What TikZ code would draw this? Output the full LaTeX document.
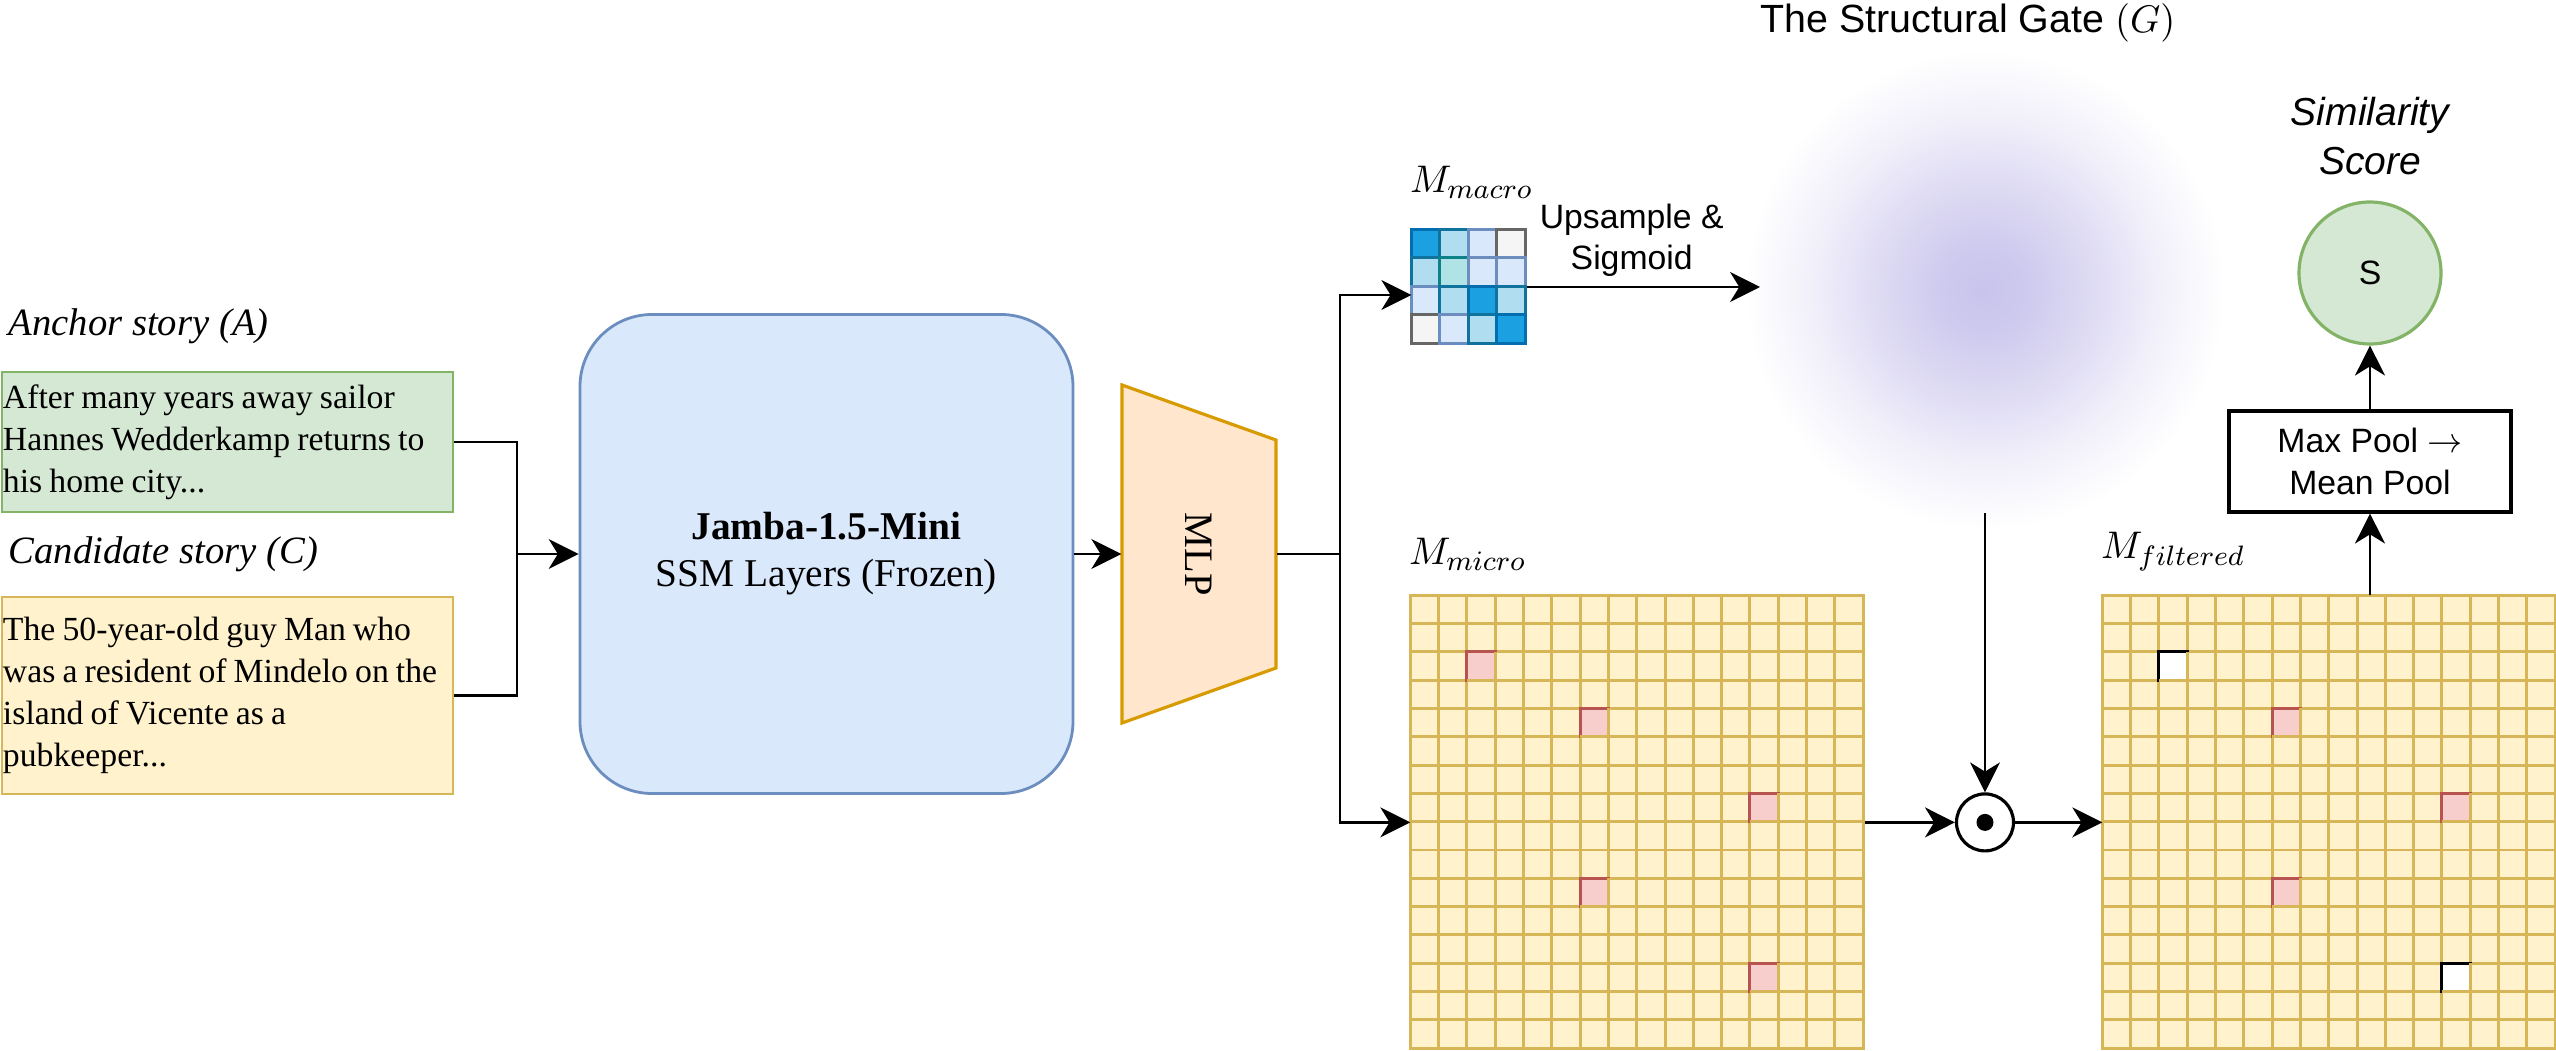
\documentclass[tikz,border=0pt]{standalone}
\usepackage{fontspec}
\setmainfont{Liberation Serif}
\newfontfamily\sansfont{Liberation Sans}
\usetikzlibrary{arrows.meta,positioning,calc}

\definecolor{anchorfill}{HTML}{D5E8D4}
\definecolor{anchorline}{HTML}{82B366}
\definecolor{candfill}{HTML}{FFF2CC}
\definecolor{candline}{HTML}{D6B656}
\definecolor{jambafill}{HTML}{DAE8FC}
\definecolor{jambaline}{HTML}{6C8EBF}
\definecolor{mlpfill}{HTML}{FFE6CC}
\definecolor{mlpline}{HTML}{D79B00}
\definecolor{hotfill}{HTML}{F8CECC}
\definecolor{hotline}{HTML}{B85450}
\definecolor{deepfill}{HTML}{1BA1E2}
\definecolor{deepline}{HTML}{006EAF}
\definecolor{skyfill}{HTML}{B1DDF0}
\definecolor{skyline}{HTML}{10739E}
\definecolor{tealfill}{HTML}{B0E3E6}
\definecolor{tealline}{HTML}{0E8088}
\definecolor{greyfill}{HTML}{F5F5F5}
\definecolor{greyline}{HTML}{666666}
\definecolor{gatecol}{HTML}{C9C4EC}

\pgfdeclareradialshading{gateglow}{\pgfpoint{0cm}{0cm}}{color(0bp)=(gatecol); color(4bp)=(gatecol!92!white); color(11bp)=(gatecol!62!white); color(18bp)=(gatecol!26!white); color(25bp)=(white); color(50bp)=(white)}

\newcommand{\tightspaces}{\spaceskip=0.21em plus 0.1em minus 0.05em\relax}

\tikzset{
  storybox/.style={draw, rectangle, line width=0.8pt, minimum width=4.51cm, text width=4.49cm, inner xsep=0.01cm, align=left, font=\fontsize{9.6}{11.9}\selectfont},
  storylabel/.style={anchor=west, inner sep=0pt, font=\fontsize{11}{13}\selectfont\itshape},
  matlabel/.style={inner sep=0pt, font=\fontsize{11.2}{13}\selectfont},
  gridbox/.style={rectangle, inner sep=0pt, minimum size=4.528cm},
  cell/.style={fill=candfill, draw=candline, line width=0.85pt},
  cellline/.style={draw=candline, line width=0.85pt},
  hotcell/.style={fill=hotfill, draw=hotline, line width=0.85pt},
  blankcell/.style={fill=white, draw=black, line width=0.85pt},
  wire/.style={line width=0.8pt}
}

\begin{document}
\begin{tikzpicture}[>={Stealth[length=8.5pt, width=8.5pt, inset=2.6pt]}]
  \useasboundingbox (0,0) rectangle (25.56,10.5);

  \coordinate (gate) at (19.85,7.6);
  \shade[shading=gateglow] (gate) circle (2.4);
  \node[font=\sansfont\fontsize{11.2}{13}\selectfont] (gatelbl) at (19.68,10.27) {The Structural Gate $(G)$};

  \node[storylabel] (anchorlbl) at (0.08,7.24) {Anchor story (A)};
  \node[storybox, fill=anchorfill, draw=anchorline, minimum height=1.40cm] (anchor) at (2.275,6.08) {\tightspaces After many years away sailor\\Hannes Wedderkamp returns to\\his home city...};
  \node[storylabel] (candlbl) at (0.08,4.96) {Candidate story (C)};
  \node[storybox, fill=candfill, draw=candline, minimum height=1.97cm] (cand) at (2.275,3.545) {\tightspaces The 50-year-old guy Man who\\\mbox{was a resident of Mindelo on the}\\island of Vicente as a\\pubkeeper...};

  \node[draw=jambaline, fill=jambafill, line width=0.8pt, rounded corners=0.72cm, minimum width=4.93cm, minimum height=4.79cm, align=center, font=\fontsize{11.2}{13.4}\selectfont] (jamba) at (8.265,4.96) {\textbf{Jamba-1.5-Mini}\\SSM Layers (Frozen)};

  \filldraw[fill=mlpfill, draw=mlpline, line width=0.9pt] (11.22,6.65) -- (12.76,6.10) -- (12.76,3.82) -- (11.22,3.27) -- cycle;
  \node[inner sep=0pt, minimum width=1.54cm, minimum height=3.37cm, font=\fontsize{11.5}{13}\selectfont] (mlp) at (11.99,4.96) {\rotatebox{-90}{MLP}};

  \coordinate (merge) at (5.17,4.96);
  \draw[wire] (anchor.east) -| (merge);
  \draw[wire] (cand.east) -| (merge);
  \draw[wire, ->] (merge) -- (jamba.west);
  \draw[wire, ->] (jamba) -- (mlp);

  \node[rectangle, inner sep=0pt, minimum size=1.14cm] (macro) at (14.69,7.63) {};
  \begin{scope}[shift={(macro.north west)}, x=0.285cm, y=-0.285cm, line width=0.85pt]
    \foreach \c/\r/\f/\d in {0/0/deepfill/deepline, 1/0/skyfill/skyline, 2/0/jambafill/jambaline, 3/0/greyfill/greyline,
      0/1/skyfill/skyline, 1/1/tealfill/tealline, 2/1/jambafill/jambaline, 3/1/jambafill/jambaline,
      0/2/jambafill/jambaline, 1/2/skyfill/skyline, 2/2/deepfill/deepline, 3/2/skyfill/skyline,
      0/3/greyfill/greyline, 1/3/jambafill/jambaline, 2/3/skyfill/skyline, 3/3/deepfill/deepline}
      \draw[fill=\f, draw=\d] (\c,\r) rectangle ++(1,1);
  \end{scope}
  \node[matlabel, above right=0.30cm and -0.02cm of macro.north west] (macrolbl) {$M_{macro}$};

  \node[gridbox] (micro) at (16.374,2.276) {};
  \begin{scope}[shift={(micro.north west)}, x=0.283cm, y=-0.283cm]
    \foreach \r in {0,...,15}
      \foreach \c in {0,...,15}
        \draw[cell] (\c,\r) rectangle ++(1,1);
    \foreach \c/\r in {2/2, 6/4, 12/7, 6/10, 12/13} {
      \draw[hotcell] (\c,\r) rectangle ++(1,1);
      \draw[cellline] (\c+1,\r) -- ++(0,1) -- ++(-1,0);
    }
  \end{scope}
  \node[matlabel, above right=0.24cm and -0.02cm of micro.north west] (microlbl) {$M_{micro}$};

  \node[gridbox] (filtered) at (23.294,2.276) {};
  \begin{scope}[shift={(filtered.north west)}, x=0.283cm, y=-0.283cm]
    \foreach \r in {0,...,15}
      \foreach \c in {0,...,15}
        \draw[cell] (\c,\r) rectangle ++(1,1);
    \foreach \c/\r in {6/4, 12/7, 6/10} {
      \draw[hotcell] (\c,\r) rectangle ++(1,1);
      \draw[cellline] (\c+1,\r) -- ++(0,1) -- ++(-1,0);
    }
    \foreach \c/\r in {2/2, 12/13} {
      \draw[blankcell] (\c,\r) rectangle ++(1,1);
      \draw[cellline] (\c+1,\r) -- ++(0,1) -- ++(-1,0);
    }
  \end{scope}
  \node[matlabel, above right=0.24cm and -0.02cm of filtered.north west] (filteredlbl) {$M_{filtered}$};

  \coordinate (split) at (13.40,4.96);
  \draw[wire] (mlp.east) -- (split);
  \draw[wire, ->] (split) |- ([yshift=-0.08cm]macro.west);
  \draw[wire, ->] (split) |- (micro.west);

  \coordinate (gatein) at (17.60,7.63);
  \draw[wire, ->] (macro.east) -- node[pos=0.45, above, inner sep=2.5pt, align=center, font=\sansfont\fontsize{9.6}{11.7}\selectfont] {Upsample \&\\Sigmoid} (gatein);

  \node[draw, circle, line width=0.9pt, minimum size=0.57cm, inner sep=0pt] (odot) at (19.85,2.276) {};
  \fill (odot) circle (0.085);
  \coordinate (gateout) at (19.85,5.37);
  \draw[wire, ->] (gateout) -- (odot);
  \draw[wire, ->] (micro) -- (odot);
  \draw[wire, ->] (odot) -- (filtered);

  \node[draw, rectangle, line width=0.9pt, minimum width=2.82cm, minimum height=1.01cm, align=center, font=\sansfont\fontsize{9.6}{11.7}\selectfont] (pool) at (23.70,5.885) {Max Pool $\rightarrow$\\Mean Pool};
  \node[draw=anchorline, fill=anchorfill, circle, line width=0.9pt, minimum size=1.42cm, font=\sansfont\fontsize{9.6}{11}\selectfont] (score) at (23.70,7.77) {S};
  \node[align=center, font=\sansfont\fontsize{11.1}{13.7}\selectfont\itshape] (scorelbl) at (23.70,9.14) {Similarity\\Score};
  \draw[wire, ->] (pool.south |- filtered.north) -- (pool);
  \draw[wire, ->] (pool) -- (score);
\end{tikzpicture}
\end{document}
